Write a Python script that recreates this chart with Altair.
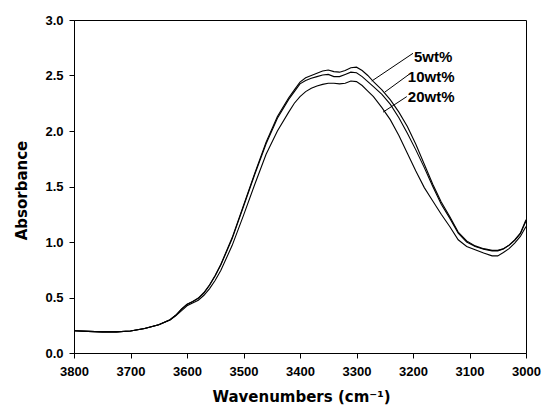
import altair as alt
import pandas as pd

# ---- data ----
wavenumber = [3800, 3775, 3750, 3725, 3700, 3675, 3650, 3630, 3620, 3610, 3600, 3590,
              3580, 3570, 3560, 3550, 3540, 3520, 3500, 3480, 3460, 3440, 3420, 3410,
              3400, 3390, 3380, 3370, 3360, 3350, 3340, 3330, 3320, 3310, 3300, 3290,
              3280, 3270, 3255, 3240, 3225, 3210, 3195, 3180, 3165, 3150, 3135, 3120,
              3105, 3090, 3075, 3060, 3050, 3040, 3030, 3020, 3010, 3000]

abs_5wt = [0.200, 0.195, 0.190, 0.190, 0.198, 0.220, 0.255, 0.300, 0.340, 0.395, 0.440, 0.465,
           0.495, 0.545, 0.615, 0.700, 0.800, 1.040, 1.330, 1.620, 1.900, 2.130, 2.300, 2.370,
           2.440, 2.480, 2.500, 2.520, 2.540, 2.550, 2.535, 2.530, 2.545, 2.570, 2.575, 2.545,
           2.500, 2.445, 2.370, 2.280, 2.170, 2.040, 1.880, 1.700, 1.520, 1.360, 1.230, 1.090,
           1.010, 0.965, 0.940, 0.925, 0.925, 0.940, 0.970, 1.015, 1.075, 1.190]

abs_10wt = [0.200, 0.195, 0.190, 0.190, 0.198, 0.220, 0.255, 0.300, 0.340, 0.393, 0.437, 0.462,
            0.492, 0.540, 0.610, 0.695, 0.795, 1.030, 1.320, 1.610, 1.885, 2.115, 2.285, 2.355,
            2.425, 2.455, 2.475, 2.490, 2.505, 2.510, 2.490, 2.490, 2.510, 2.530, 2.525, 2.490,
            2.445, 2.400, 2.330, 2.240, 2.120, 1.980, 1.830, 1.670, 1.500, 1.340, 1.215, 1.080,
            1.000, 0.960, 0.935, 0.920, 0.920, 0.938, 0.972, 1.020, 1.080, 1.200]

abs_20wt = [0.200, 0.195, 0.190, 0.190, 0.198, 0.220, 0.255, 0.298, 0.335, 0.380, 0.425, 0.450,
            0.475, 0.520, 0.580, 0.655, 0.745, 0.970, 1.240, 1.520, 1.790, 2.000, 2.170, 2.250,
            2.310, 2.355, 2.385, 2.405, 2.420, 2.430, 2.430, 2.425, 2.430, 2.450, 2.445, 2.410,
            2.360, 2.310, 2.210, 2.100, 1.960, 1.800, 1.640, 1.490, 1.370, 1.250, 1.140, 1.020,
            0.960, 0.930, 0.900, 0.875, 0.875, 0.905, 0.940, 0.990, 1.050, 1.140]

series_names = ["5wt%", "10wt%", "20wt%"]

# annotation labels and leader lines (data coordinates)
label_text = ["5wt%", "10wt%", "20wt%"]
label_x = [3200, 3211, 3211]
label_y = [2.67, 2.485, 2.305]
leader_x_start = [3273, 3250, 3253]
leader_y_start = [2.45, 2.35, 2.17]
leader_x_end = [3200, 3207, 3211]
leader_y_end = [2.70, 2.51, 2.31]

x_tick_values = list(range(3000, 3801, 50))
y_tick_values = [0.0, 0.5, 1.0, 1.5, 2.0, 2.5, 3.0]

# ---- tables ----
rows = []
for name, vals in zip(series_names, [abs_5wt, abs_10wt, abs_20wt]):
    for w, a in zip(wavenumber, vals):
        rows.append({"wavenumber": w, "absorbance": a, "series": name})
df = pd.DataFrame(rows)

labels_df = pd.DataFrame({"text": label_text, "x": label_x, "y": label_y})
leaders_df = pd.DataFrame({"x": leader_x_start, "y": leader_y_start,
                           "x2": leader_x_end, "y2": leader_y_end})

FONT = "Liberation Sans"
TITLE_FONT = "DejaVu Sans"

x_scale = alt.Scale(domain=[3000, 3800], reverse=True, nice=False, zero=False)
y_scale = alt.Scale(domain=[0, 3], nice=False, zero=False)

x_axis = alt.Axis(
    values=x_tick_values,
    labelExpr="datum.value % 100 === 0 ? datum.label : ''",
    tickSize={"condition": {"test": "datum.value % 100 === 0", "value": 5}, "value": 3},
    labelOverlap=False,
    labelFlush=False,
    labelPadding=7,
    labelFont=FONT, labelFontSize=13, labelFontWeight="bold", labelColor="black",
    title="Wavenumbers (cm\u207b\u00b9)",
    titleFont=TITLE_FONT, titleFontSize=15, titleFontWeight="bold", titleColor="black",
    titleX=227, titleY=48, titleAlign="center", titleBaseline="alphabetic",
    grid=False, domainColor="black", domainWidth=1, tickColor="black", tickWidth=1,
    format="d",
)
y_axis = alt.Axis(
    values=y_tick_values,
    format=".1f",
    tickSize=5,
    labelPadding=6,
    labelFlush=False,
    labelOverlap=False,
    labelFont=FONT, labelFontSize=13, labelFontWeight="bold", labelColor="black",
    title="Absorbance",
    titleFont=TITLE_FONT, titleFontSize=15, titleFontWeight="bold", titleColor="black",
    titleX=-48, titleY=170, titleAngle=270, titleAlign="center", titleBaseline="alphabetic",
    grid=False, domainColor="black", domainWidth=1, tickColor="black", tickWidth=1,
)

lines = alt.Chart(df).mark_line(color="black", strokeWidth=1.1).encode(
    x=alt.X("wavenumber:Q", scale=x_scale, axis=x_axis),
    y=alt.Y("absorbance:Q", scale=y_scale, axis=y_axis),
    detail="series:N",
    order=alt.Order("wavenumber:Q", sort="descending"),
)

leaders = alt.Chart(leaders_df).mark_rule(color="black", strokeWidth=1).encode(
    x=alt.X("x:Q", scale=x_scale),
    y=alt.Y("y:Q", scale=y_scale),
    x2="x2:Q",
    y2="y2:Q",
)

texts = alt.Chart(labels_df).mark_text(
    align="left", baseline="middle", font=FONT, fontSize=15, fontWeight="bold", color="black", dx=1
).encode(
    x=alt.X("x:Q", scale=x_scale),
    y=alt.Y("y:Q", scale=y_scale),
    text="text:N",
)

chart = alt.layer(lines, leaders, texts).properties(
    width=452,
    height=333,
    padding={"left": 74, "top": 20, "right": 16, "bottom": 61},
    autosize=alt.AutoSizeParams(type="none"),
    background="white",
).configure_view(stroke="black", strokeWidth=1)

chart.save("out.html", embed_options={"renderer": "svg", "actions": False})
